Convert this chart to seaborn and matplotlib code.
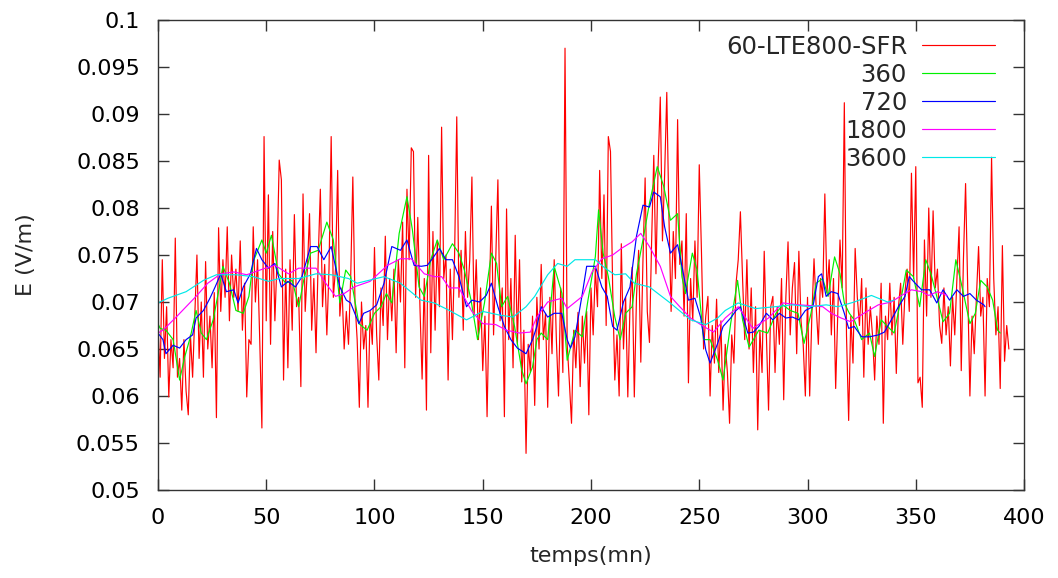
import matplotlib
matplotlib.use('Agg')
import matplotlib.pyplot as plt
import seaborn as sns
import numpy as np

sns.set_theme(style='ticks')
plt.rcParams['font.family'] = ['DejaVu Sans']

# champ E (V/m), une mesure par minute
e_sfr = [
    0.0675, 0.062, 0.0745, 0.064, 0.0695, 0.0599, 0.066, 0.063, 0.0768, 0.062,
    0.064, 0.0585, 0.066, 0.0605, 0.058, 0.0665, 0.062, 0.0685, 0.075, 0.064,
    0.070, 0.062, 0.0743, 0.065, 0.0685, 0.063, 0.071, 0.0577, 0.0779, 0.069,
    0.0745, 0.0705, 0.078, 0.068, 0.075, 0.0705, 0.0735, 0.069, 0.0765, 0.067,
    0.072, 0.0599, 0.066, 0.0655, 0.078, 0.070, 0.0745, 0.066, 0.0566, 0.0876,
    0.068, 0.0814, 0.0655, 0.0775, 0.068, 0.0745, 0.0851, 0.083, 0.0617, 0.0735,
    0.063, 0.0745, 0.067, 0.0793, 0.0695, 0.0705, 0.061, 0.0815, 0.069, 0.0735,
    0.0794, 0.067, 0.0725, 0.0646, 0.0745, 0.082, 0.0695, 0.074, 0.0665, 0.0735,
    0.0876, 0.0705, 0.0735, 0.084, 0.0685, 0.0715, 0.065, 0.069, 0.0655, 0.0725,
    0.0833, 0.070, 0.066, 0.0588, 0.070, 0.065, 0.0675, 0.0588, 0.069, 0.0655,
    0.0758, 0.0665, 0.0617, 0.0715, 0.0675, 0.077, 0.066, 0.0725, 0.068, 0.0735,
    0.0646, 0.0745, 0.070, 0.0785, 0.063, 0.082, 0.0745, 0.0864, 0.086, 0.0705,
    0.079, 0.0695, 0.0618, 0.0725, 0.0585, 0.0856, 0.0646, 0.0775, 0.067, 0.0765,
    0.0695, 0.0886, 0.0725, 0.075, 0.0617, 0.0735, 0.066, 0.075, 0.0897, 0.0705,
    0.0755, 0.067, 0.0775, 0.0705, 0.0745, 0.0833, 0.0685, 0.0745, 0.066, 0.0715,
    0.0627, 0.0685, 0.0578, 0.070, 0.0802, 0.0665, 0.0745, 0.083, 0.068, 0.0715,
    0.0578, 0.0799, 0.066, 0.0725, 0.063, 0.0771, 0.0655, 0.0745, 0.0615, 0.067,
    0.0539, 0.0655, 0.0625, 0.0685, 0.059, 0.0705, 0.065, 0.074, 0.066, 0.0688,
    0.0588, 0.0705, 0.0645, 0.0745, 0.066, 0.060, 0.0715, 0.0625, 0.097, 0.0655,
    0.0615, 0.0571, 0.067, 0.063, 0.0689, 0.061, 0.0685, 0.0635, 0.069, 0.058,
    0.0715, 0.0665, 0.0735, 0.0695, 0.084, 0.0725, 0.0814, 0.0675, 0.0876, 0.086,
    0.0715, 0.0617, 0.0665, 0.060, 0.0762, 0.065, 0.0705, 0.0599, 0.0695, 0.0737,
    0.0599, 0.0705, 0.0755, 0.0636, 0.0745, 0.0832, 0.069, 0.0657, 0.0765, 0.0856,
    0.073, 0.0845, 0.0918, 0.0765, 0.0835, 0.0923, 0.079, 0.069, 0.0775, 0.0725,
    0.0894, 0.074, 0.0765, 0.0685, 0.0794, 0.0614, 0.0725, 0.068, 0.0765, 0.0705,
    0.0846, 0.0755, 0.065, 0.0685, 0.0706, 0.060, 0.0675, 0.0635, 0.0703, 0.0625,
    0.068, 0.0585, 0.0655, 0.0625, 0.0571, 0.0665, 0.0635, 0.072, 0.0745, 0.0796,
    0.0725, 0.066, 0.0745, 0.065, 0.0715, 0.0625, 0.0695, 0.0564, 0.067, 0.0625,
    0.0754, 0.0665, 0.0585, 0.0695, 0.0706, 0.0625, 0.0695, 0.0655, 0.0725, 0.0596,
    0.0705, 0.0764, 0.0665, 0.0715, 0.0742, 0.0645, 0.0754, 0.068, 0.0655, 0.060,
    0.0705, 0.060, 0.0685, 0.0746, 0.0695, 0.0655, 0.0725, 0.0705, 0.0815, 0.071,
    0.0745, 0.0665, 0.0725, 0.0608, 0.069, 0.0766, 0.0715, 0.0912, 0.0665, 0.0574,
    0.0685, 0.0635, 0.0757, 0.0705, 0.0675, 0.0725, 0.062, 0.0715, 0.0655, 0.0695,
    0.0665, 0.0617, 0.0685, 0.0655, 0.072, 0.0571, 0.0685, 0.066, 0.072, 0.0665,
    0.0705, 0.0624, 0.0695, 0.072, 0.0655, 0.071, 0.0735, 0.069, 0.0837, 0.0725,
    0.0844, 0.0614, 0.062, 0.0588, 0.0766, 0.0685, 0.080, 0.0705, 0.0797, 0.0715,
    0.0735, 0.0675, 0.0656, 0.0715, 0.0665, 0.0695, 0.0632, 0.0705, 0.0665, 0.0725,
    0.078, 0.0627, 0.0745, 0.0826, 0.0715, 0.060, 0.0685, 0.0645, 0.0705, 0.0759,
    0.0685, 0.0705, 0.060, 0.0725, 0.0695, 0.0854, 0.0725, 0.0665, 0.0695, 0.0608,
    0.076, 0.0637, 0.0675, 0.065,
]
t_sfr = np.arange(len(e_sfr))

t_360 = [0, 1, 3.7, 7, 10, 12.4, 15, 17.6, 20, 22.4, 25.5, 27.8, 30, 33, 36, 39.4,
         42, 44, 48, 50, 52.4, 55.7, 59, 62, 65, 67.3, 70.5, 74, 78, 81, 84, 86.7,
         89, 92.8, 96.6, 100, 103, 105.5, 108, 111.4, 115, 117.5, 120.6, 123, 126,
         129, 132, 136, 139, 141.5, 144.6, 147.6, 150.8, 154, 156.4, 158.7, 161.5,
         164.7, 168, 170, 173, 175, 177, 180, 183, 186.6, 189, 192.6, 196, 198.6,
         202, 203.5, 205.6, 208, 211, 213.5, 216, 219, 221, 224, 227, 230.6, 233.6,
         236.7, 240, 242, 243.6, 246.8, 249, 252, 255, 258.5, 261, 264.5, 267.7,
         270, 273, 277.5, 281.6, 285.4, 288.6, 292, 295.6, 298.4, 301.6, 304, 307,
         309.5, 312.5, 315, 317, 319.3, 321.6, 325, 328.6, 331, 334, 337, 340,
         343.4, 345.6, 348.9, 351.8, 354.6, 357, 359.7, 362.6, 365.6, 368.5, 371,
         375, 377.5, 380, 383, 385.5, 387.8, 389]
e_360 = [0.0677, 0.0672, 0.0670, 0.0660, 0.0617, 0.0642, 0.0663, 0.0691, 0.0667,
         0.0660, 0.0681, 0.0709, 0.0738, 0.0720, 0.0691, 0.0688, 0.0706, 0.0743,
         0.0766, 0.0752, 0.0771, 0.0730, 0.0720, 0.0723, 0.0695, 0.0723, 0.0752,
         0.0755, 0.0785, 0.0766, 0.0699, 0.0734, 0.0727, 0.0677, 0.0670, 0.0688,
         0.0695, 0.0709, 0.0699, 0.0773, 0.0812, 0.0777, 0.0716, 0.0706, 0.0745,
         0.0766, 0.0745, 0.0762, 0.0752, 0.0734, 0.0702, 0.0660, 0.0699, 0.0752,
         0.0741, 0.0695, 0.0706, 0.0674, 0.0628, 0.0613, 0.0631, 0.0660, 0.0667,
         0.0660, 0.0738, 0.0709, 0.0638, 0.0670, 0.0663, 0.0702, 0.0748, 0.0798,
         0.0752, 0.0727, 0.0684, 0.0660, 0.0688, 0.0695, 0.0730, 0.0766, 0.0805,
         0.0844, 0.0823, 0.0787, 0.0794, 0.0727, 0.0709, 0.0752, 0.0734, 0.0660,
         0.0660, 0.0638, 0.0617, 0.0677, 0.0723, 0.0681, 0.0652, 0.0670, 0.0667,
         0.0688, 0.0697, 0.0691, 0.0688, 0.0656, 0.0688, 0.0720, 0.0725, 0.0706,
         0.0748, 0.0730, 0.0699, 0.0688, 0.0681, 0.0660, 0.0667, 0.0642, 0.0681,
         0.0674, 0.0667, 0.0706, 0.0734, 0.0727, 0.0695, 0.0745, 0.0730, 0.0706,
         0.0679, 0.0688, 0.0745, 0.0720, 0.0677, 0.0688, 0.0723, 0.0716, 0.0702,
         0.0670, 0.0667]

t_720 = [0, 2.3, 3.7, 7, 10, 13, 16, 17.6, 21, 24, 26.4, 29, 31.6, 35, 37, 39.4,
         42.7, 44, 45.5, 48, 51, 54, 57, 60, 63.5, 66.5, 70.5, 73.5, 76.6, 80, 84,
         87, 89, 92.8, 95, 98, 101, 104.4, 108, 112, 115, 118.3, 121.6, 124.4,
         126.7, 130, 133, 136, 139, 142.5, 145, 148.5, 151.6, 154, 157, 160, 163,
         166, 170, 173, 175, 177, 180, 183, 186.5, 189, 190.5, 192.6, 196, 198, 202,
         205, 207.5, 210, 212, 215, 218, 221, 224, 227, 229, 232, 234, 236.7, 240,
         242, 245, 248, 250.6, 253, 255, 258.5, 261, 264.5, 267, 269, 272.4, 275,
         277.5, 281, 284, 287, 290, 293, 296, 299, 302.5, 305, 306.5, 308.6, 311,
         314, 317, 319, 321.6, 325, 328.6, 332.7, 335.5, 338.7, 342, 345, 347,
         349.7, 352.7, 356.4, 359.7, 362.6, 365.6, 369, 372, 375, 378, 381.4, 382]
e_720 = [0.0667, 0.0660, 0.0645, 0.0654, 0.0651, 0.0660, 0.0665, 0.0683, 0.0691,
         0.0704, 0.0716, 0.0730, 0.0711, 0.0713, 0.0699, 0.0716, 0.0730, 0.0743,
         0.0757, 0.0745, 0.0736, 0.0741, 0.0716, 0.0722, 0.0716, 0.0727, 0.0759,
         0.0759, 0.0745, 0.0759, 0.0716, 0.0702, 0.0699, 0.0677, 0.0688, 0.0691,
         0.0697, 0.0720, 0.0759, 0.0755, 0.0766, 0.0739, 0.0738, 0.0739, 0.0746,
         0.0757, 0.0745, 0.0745, 0.0727, 0.0695, 0.0702, 0.0700, 0.0707, 0.0720,
         0.0695, 0.0674, 0.0660, 0.0651, 0.0645, 0.0660, 0.0674, 0.0695, 0.0684,
         0.0688, 0.0688, 0.0660, 0.0651, 0.0663, 0.0709, 0.0738, 0.0738, 0.0716,
         0.0706, 0.0674, 0.0670, 0.0700, 0.0716, 0.0770, 0.0803, 0.0801, 0.0817,
         0.0812, 0.0780, 0.0752, 0.0761, 0.0738, 0.0702, 0.0704, 0.0684, 0.0649,
         0.0635, 0.0656, 0.0674, 0.0683, 0.0691, 0.0695, 0.0667, 0.0668, 0.0674,
         0.0688, 0.0681, 0.0688, 0.0683, 0.0684, 0.0681, 0.0691, 0.0695, 0.0727,
         0.0730, 0.0706, 0.0711, 0.0709, 0.0688, 0.0672, 0.0674, 0.0663, 0.0663,
         0.0665, 0.0668, 0.0681, 0.0695, 0.0706, 0.0727, 0.0720, 0.0713, 0.0713,
         0.0699, 0.0713, 0.0702, 0.0713, 0.0706, 0.0709, 0.0702, 0.0697, 0.0695]

t_1800 = [0, 2.3, 8, 13, 17.6, 23, 29, 35, 41, 49.6, 54, 60.3, 65, 73, 77.5, 82,
          86, 90.5, 98, 106, 112, 117, 123, 127.6, 131, 134.6, 139, 145, 150, 156,
          161, 167, 172, 175, 180, 186.5, 189, 196, 200.5, 205, 210, 214, 219, 223,
          227, 232, 236.7, 241, 246, 252, 256.6, 262, 268, 274.7, 282, 288.6, 296,
          302.5, 307, 311, 315.5, 320, 326, 332.7, 338.7, 343.4, 348, 352.7, 356,
          360, 364.5]
e_1800 = [0.0667, 0.0670, 0.0683, 0.0695, 0.0706, 0.0720, 0.0730, 0.0732, 0.0729,
          0.0736, 0.0739, 0.0730, 0.0736, 0.0736, 0.0720, 0.0706, 0.0709, 0.0716,
          0.0722, 0.0739, 0.0746, 0.0746, 0.0730, 0.0727, 0.0727, 0.0715, 0.0715,
          0.0690, 0.0677, 0.0676, 0.0670, 0.0667, 0.0668, 0.0684, 0.0700, 0.0704,
          0.0693, 0.0706, 0.0732, 0.0746, 0.0750, 0.0757, 0.0764, 0.0773, 0.0759,
          0.0738, 0.0706, 0.0695, 0.0683, 0.0674, 0.0668, 0.0683, 0.0695, 0.0672,
          0.0683, 0.0699, 0.0697, 0.0696, 0.0695, 0.0688, 0.0683, 0.0679, 0.0688,
          0.0697, 0.0700, 0.0707, 0.0713, 0.0711, 0.0707, 0.0711, 0.0707]

t_3600 = [0, 4.6, 13, 21, 27, 36, 44, 51, 56, 65, 73, 80, 88, 92, 104.4, 112,
          121.5, 127.6, 134.6, 142.5, 150, 158, 164, 170, 174, 180, 184.6, 189,
          192.6, 202, 206.5, 211, 216, 220, 227, 236.6, 246, 253, 258.5, 262, 268,
          276, 285, 293, 301, 308.6, 314, 321.6, 329.5, 337, 340]
e_3600 = [0.0699, 0.0704, 0.0711, 0.0723, 0.0729, 0.0729, 0.0727, 0.0722, 0.0725,
          0.0725, 0.0730, 0.0729, 0.0725, 0.0720, 0.0727, 0.0720, 0.0702, 0.0699,
          0.0691, 0.0681, 0.0690, 0.0686, 0.0684, 0.0695, 0.0706, 0.0729, 0.0741,
          0.0738, 0.0745, 0.0745, 0.0736, 0.0729, 0.0730, 0.0720, 0.0716, 0.0699,
          0.0681, 0.0676, 0.0683, 0.0691, 0.0699, 0.0693, 0.0695, 0.0697, 0.0695,
          0.0697, 0.0695, 0.0700, 0.0707, 0.0700, 0.0702]

labels = ['60-LTE800-SFR', '360', '720', '1800', '3600']
colors = ['#ff0000', '#00f000', '#0000ff', '#ff00ff', '#00e8e8']
xticks = [0, 50, 100, 150, 200, 250, 300, 350, 400]
yticks = [0.05, 0.055, 0.06, 0.065, 0.07, 0.075, 0.08, 0.085, 0.09, 0.095, 0.1]
ytick_labels = ['0.05', '0.055', '0.06', '0.065', '0.07', '0.075', '0.08',
                '0.085', '0.09', '0.095', '0.1']

fig, ax = plt.subplots(figsize=(10.58, 5.78), dpi=100)
fig.subplots_adjust(left=0.1493, right=0.9679, top=0.9654, bottom=0.1522)

series = [(t_sfr, e_sfr), (t_360, e_360), (t_720, e_720), (t_1800, e_1800), (t_3600, e_3600)]
for (t, e), lab, col in zip(series, labels, colors):
    sns.lineplot(x=t, y=e, color=col, linewidth=0.85, label=lab, ax=ax)

ax.set_xlim(0, 400)
ax.set_ylim(0.05, 0.1)
ax.set_xticks(xticks)
ax.set_yticks(yticks)
ax.set_yticklabels(ytick_labels)
ax.tick_params(axis='both', direction='in', length=8, width=1, color='#333333',
               top=True, right=True, labelsize=16, labelcolor='black')
ax.tick_params(axis='y', pad=13)
ax.tick_params(axis='x', pad=13)
for sp in ax.spines.values():
    sp.set_color('#333333')
    sp.set_linewidth(1)

ax.set_xlabel('temps(mn)', fontsize=16, labelpad=13)
ax.set_ylabel('E (V/m)', fontsize=16, labelpad=29)

leg = ax.legend(loc='upper right', bbox_to_anchor=(1 - 29 / 866, 1 - 15 / 470),
                frameon=False, fontsize=17.5, markerfirst=False, handlelength=3.0,
                handletextpad=0.62, labelspacing=0.16, borderpad=0, borderaxespad=0)

fig.savefig('out.png', dpi=100)
